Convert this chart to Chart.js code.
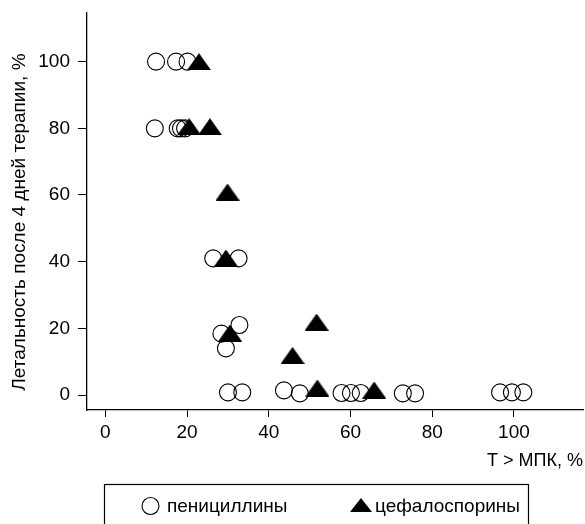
<!DOCTYPE html>
<html>
<head>
<meta charset="utf-8">
<script src="https://cdn.jsdelivr.net/npm/chart.js@4"></script>
<style>
  html, body { margin: 0; padding: 0; background: #fff; }
  #chart { display: block; }
</style>
</head>
<body>
<canvas id="chart" width="585" height="524"></canvas>
<script>
//************************* data **********************************
// penicillins (open circles)
const penicillinX = [12.4, 17.3, 20.1, 12.1, 17.7, 18.5, 19.5, 26.4, 32.6, 28.4, 32.8, 29.5,
  30.0, 33.5, 43.7, 47.6, 57.8, 60.1, 62.5, 72.8, 75.8, 96.6, 99.5, 102.3];
const penicillinY = [100, 100, 100, 80, 80, 80, 80, 41, 41, 18.4, 21, 14,
  0.8, 0.8, 1.4, 0.5, 0.6, 0.6, 0.6, 0.5, 0.5, 0.8, 0.8, 0.8];
// cephalosporins (filled triangles)
const cephalosporinX = [22.9, 20.5, 25.6, 29.9, 29.5, 30.5, 51.7, 45.8, 51.9, 65.8];
const cephalosporinY = [100, 80.5, 80.5, 60.9, 41.1, 18.6, 21.9, 11.9, 2.1, 1.5];
// axes
const xTicks = [0, 20, 40, 60, 80, 100];
const yTicks = [0, 20, 40, 60, 80, 100];
const seriesNames = ['пенициллины', 'цефалоспорины'];
const xTitle = 'T > МПК, %';
const yTitle = 'Летальность после 4 дней терапии, %';

const FONT = '"Liberation Sans", Arial, Helvetica, sans-serif';

//************************* helpers **********************************
// filled triangle used as point style (flatter than the built-in one)
const makeTriangle = (w, h) => {
  const c = document.createElement('canvas');
  c.width = w;
  c.height = h;
  const g = c.getContext('2d');
  g.fillStyle = '#000';
  g.beginPath();
  g.moveTo(w / 2, 0);
  g.lineTo(w, h);
  g.lineTo(0, h);
  g.closePath();
  g.fill();
  return c;
};
const triangle = makeTriangle(24, 17);
const legendTriangle = makeTriangle(22, 14);

const toPoints = (xs, ys) => xs.map((x, i) => ({ x: x, y: ys[i] }));

// no extra room for edge labels, layout padding decides the plot box
const noEdgePadding = (scale) => {
  scale.paddingTop = 0;
  scale.paddingBottom = 0;
  scale.paddingLeft = 0;
  scale.paddingRight = 0;
};

// framed legend under the x axis
const legendFrame = {
  id: 'legendFrame',
  afterDraw(chart) {
    const ctx = chart.ctx;
    const ds = chart.data.datasets;
    ctx.save();
    ctx.strokeStyle = '#000';
    ctx.lineWidth = 1.2;
    ctx.strokeRect(104.5, 484.5, 424, 60);
    // circle
    ctx.beginPath();
    ctx.arc(150.5, 506, 8.5, 0, Math.PI * 2);
    ctx.lineWidth = 1.1;
    ctx.stroke();
    // triangle
    ctx.drawImage(legendTriangle, 350, 498);
    ctx.fillStyle = '#000';
    ctx.font = '19px ' + FONT;
    ctx.textBaseline = 'alphabetic';
    ctx.fillText(ds[0].label, 167, 512);
    ctx.fillText(ds[1].label, 375, 512);
    ctx.restore();
  }
};

const axisCommon = {
  border: { display: true, color: '#000', width: 1.3 },
  grid: { display: true, drawOnChartArea: false, drawTicks: true, color: '#000', lineWidth: 1 }
};

//************************* chart **********************************
new Chart(document.getElementById('chart'), {
  type: 'scatter',
  data: {
    datasets: [{
      label: seriesNames[0],
      data: toPoints(penicillinX, penicillinY),
      pointStyle: 'circle',
      pointRadius: 8.5,
      pointBorderWidth: 1.1,
      pointBorderColor: '#000',
      pointBackgroundColor: 'rgba(0,0,0,0)',
      order: 1
    }, {
      label: seriesNames[1],
      data: toPoints(cephalosporinX, cephalosporinY),
      pointStyle: triangle,
      pointRadius: 10,
      order: 0
    }]
  },
  options: {
    responsive: false,
    animation: false,
    layout: { autoPadding: false, padding: { top: 13, right: 2, bottom: 52, left: 0 } },
    plugins: {
      legend: { display: false },
      tooltip: { enabled: false }
    },
    scales: {
      x: {
        type: 'linear',
        min: -4.5,
        max: 116.9,
        border: axisCommon.border,
        grid: Object.assign({}, axisCommon.grid, { tickLength: 7 }),
        afterBuildTicks: (scale) => { scale.ticks = xTicks.map(v => ({ value: v })); },
        afterFit: (scale) => { scale.height = 62; noEdgePadding(scale); },
        ticks: { color: '#000', padding: 4, font: { family: FONT, size: 19 }, maxRotation: 0 },
        title: {
          display: true, text: xTitle, align: 'end', color: '#000',
          font: { family: FONT, size: 18 }, padding: { top: 0, bottom: 0 }
        }
      },
      y: {
        type: 'linear',
        min: -4.5,
        max: 114.6,
        border: axisCommon.border,
        grid: Object.assign({}, axisCommon.grid, { tickLength: 9 }),
        afterBuildTicks: (scale) => { scale.ticks = yTicks.map(v => ({ value: v })); },
        afterFit: (scale) => { scale.width = 87; noEdgePadding(scale); },
        ticks: { color: '#000', padding: 8, font: { family: FONT, size: 19 } },
        title: {
          // trailing spaces nudge the centred title down a little
          display: true, text: yTitle + '\u00a0\u00a0\u00a0\u00a0', color: '#000',
          font: { family: FONT, size: 19 }, padding: { top: 8, bottom: 0 }
        }
      }
    }
  },
  plugins: [legendFrame]
});
</script>
</body>
</html>
